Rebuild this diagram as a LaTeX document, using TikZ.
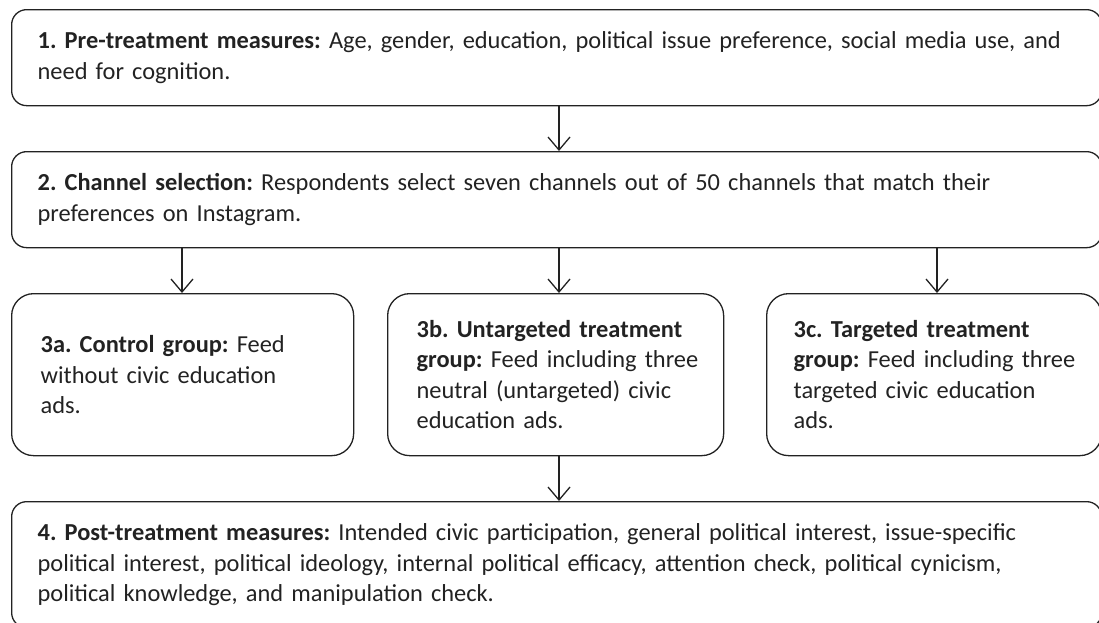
\documentclass[tikz,border=0pt]{standalone}
\usepackage{fontspec}
\setmainfont{Carlito}
\usetikzlibrary{arrows.meta}
\definecolor{ink}{HTML}{222222}
\frenchspacing
\begin{document}
\begin{tikzpicture}[x=1pt,y=-1pt,
  box/.style={draw=ink, text=ink, line width=1.3pt, align=left, anchor=north west,
    inner ysep=0pt, font=\fontsize{24.4}{30.5}\selectfont},
  bigbox/.style={box, rounded corners=15pt, inner xsep=26pt, text width=1038pt, minimum width=1090pt},
  smallbox/.style={box, rounded corners=22pt, minimum height=162pt},
  arr/.style={draw=ink, line width=1.3pt, -{Straight Barb[length=13pt,width=22pt,line width=1.3pt]}}
]
\useasboundingbox (0,0) rectangle (1099,622);
\clip (0,0) rectangle (1099,622);

\node[bigbox, minimum height=96pt] (b1) at (11,9)
  {\mbox{\textbf{1. Pre-treatment measures:} Age, gender, education, political issue preference, social media use, and}\\need for cognition.};
\node[bigbox, minimum height=96pt] (b2) at (11,151)
  {\mbox{\textbf{2. Channel selection:} Respondents select seven channels out of 50 channels that match their}\\preferences on Instagram.};
\node[smallbox, inner xsep=29pt, text width=284pt] (b3a) at (11,293)
  {\mbox{\textbf{3a. Control group:} Feed}\\\mbox{without civic education}\\ads.};
\node[smallbox, inner xsep=29pt, text width=278pt] (b3b) at (387,293)
  {\mbox{\textbf{3b. Untargeted treatment}}\\\mbox{\textbf{group:} Feed including three}\\\mbox{neutral (untargeted) civic}\\\mbox{education ads.}};
\node[smallbox, inner xsep=27pt, text width=281pt] (b3c) at (766,293)
  {\mbox{\textbf{3c. Targeted treatment}}\\\mbox{\textbf{group:} Feed including three}\\\mbox{targeted civic education}\\ads.};
\node[bigbox, minimum height=126pt] (b4) at (11,501)
  {\mbox{\textbf{4. Post-treatment measures:} Intended civic participation, general political interest, issue-specific}\\\mbox{political interest, political ideology, internal political efficacy, attention check, political cynicism,}\\\mbox{political knowledge, and manipulation check.}};

\coordinate (xm) at (559,0);
\coordinate (xa) at (182,0);
\coordinate (xc) at (937,0);
\draw[arr] (b1.south -| xm) -- (b2.north -| xm);
\draw[arr] (b2.south -| xa) -- (b3a.north -| xa);
\draw[arr] (b2.south -| xm) -- (b3b.north -| xm);
\draw[arr] (b2.south -| xc) -- (b3c.north -| xc);
\draw[arr] (b3b.south -| xm) -- (b4.north -| xm);
\end{tikzpicture}
\end{document}
